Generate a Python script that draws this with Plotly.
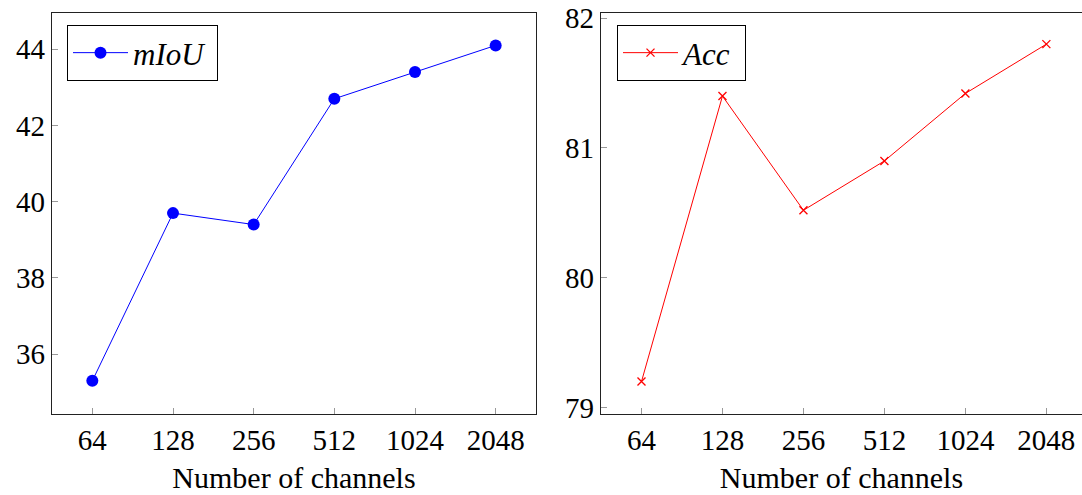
import plotly.graph_objects as go

channels = ["64", "128", "256", "512", "1024", "2048"]
miou = [35.3, 39.7, 39.4, 42.7, 43.4, 44.1]
acc = [79.2, 81.4, 80.52, 80.9, 81.42, 81.8]

FONT = "Liberation Serif"

fig = go.Figure()
fig.add_trace(go.Scatter(
    x=channels, y=miou, mode="lines+markers", name="<i>mIoU</i>&nbsp;",
    line=dict(color="#0000ff", width=1),
    marker=dict(symbol="circle", size=12, color="#0000ff"),
    xaxis="x", yaxis="y", legend="legend", showlegend=True))
fig.add_trace(go.Scatter(
    x=channels, y=acc, mode="lines+markers", name="<i>Acc</i>&nbsp;",
    line=dict(color="#ff0000", width=1),
    marker=dict(symbol="x-thin", size=8, color="#ff0000",
                line=dict(color="#ff0000", width=1.3)),
    xaxis="x2", yaxis="y2", legend="legend2", showlegend=True))

axis_common = dict(
    showgrid=False, zeroline=False, showline=True, linecolor="#222",
    linewidth=1.2, mirror=True, ticks="inside", ticklen=6, tickwidth=1,
    tickcolor="#999", tickfont=dict(family=FONT, size=29, color="#000"))

legend_common = dict(
    xref="paper", yref="paper", xanchor="left", yanchor="top",
    bordercolor="#000", borderwidth=1, bgcolor="white",
    font=dict(family=FONT, size=31, color="#000"), itemwidth=55,
    tracegroupgap=0)

fig.update_layout(
    width=1082, height=495,
    showlegend=True,
    margin=dict(l=0, r=0, t=13, b=81, autoexpand=False),
    plot_bgcolor="white", paper_bgcolor="white",
    font=dict(family=FONT, color="#000"),
    xaxis=dict(domain=[52/1082, 536/1082], type="category", range=[-0.5, 5.5],
               anchor="y", automargin=False,
               title=dict(text="Number of channels", font=dict(family=FONT, size=30), standoff=12),
               **axis_common),
    yaxis=dict(domain=[0, 1], range=[34.43, 44.95], tickvals=[36, 38, 40, 42, 44],
               anchor="x", automargin=False, **axis_common),
    xaxis2=dict(domain=[601/1082, 1.0], type="category", range=[-0.5, 5.44],
                anchor="y2", automargin=False,
                title=dict(text="Number of channels", font=dict(family=FONT, size=30), standoff=12),
                **axis_common),
    yaxis2=dict(domain=[0, 1], range=[78.95, 82.04], tickvals=[79, 80, 81, 82],
                anchor="x2", automargin=False, **axis_common),
    legend=dict(x=67/1082, y=1 - (25-13)/401, **legend_common),
    legend2=dict(x=617/1082, y=1 - (25-13)/401, **legend_common),
)

fig.write_html("out.html", config={"displayModeBar": False},
               post_script="document.body.style.margin='0';document.body.style.overflow='hidden';")
